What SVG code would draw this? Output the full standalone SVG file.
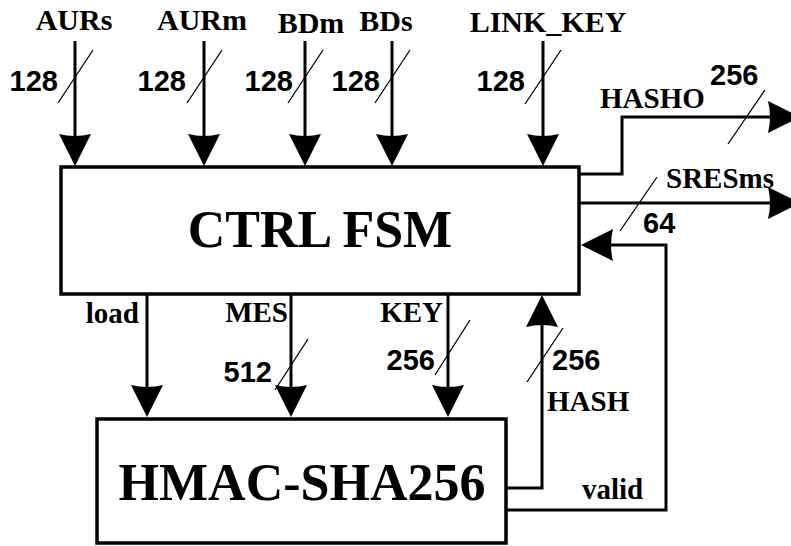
<svg xmlns="http://www.w3.org/2000/svg" width="791" height="546" viewBox="0 0 791 546">
<style>
.box{fill:#fff;stroke:#000;stroke-width:3.5}
.w{fill:none;stroke:#000;stroke-width:3}
.a{marker-end:url(#arr)}
.tk{stroke:#000;stroke-width:1.3}
.t{font-family:"Liberation Serif","Times New Roman",serif;font-weight:bold;fill:#000}
.n{font-family:"Liberation Sans",Arial,sans-serif;font-weight:bold;fill:#000;font-size:29px}
.lb{font-size:29px}
.big{font-size:52px;text-anchor:middle}
</style>
<defs>
<marker id="arr" viewBox="-24 -17 36 34" refX="0" refY="0" markerWidth="36" markerHeight="34" markerUnits="userSpaceOnUse" orient="auto">
<path d="M10,0 L-22,-16 Q-18,0 -22,16 Z" fill="#000"/>
</marker>
</defs>
<g id="ctrl">
<rect class="box" x="61" y="167" width="518" height="127"/>
<text class="t big" x="320" y="247">CTRL FSM</text>
</g>
<g id="hmac">
<rect class="box" x="97" y="419" width="409" height="124"/>
<text class="t big" x="302" y="500">HMAC-SHA256</text>
</g>
<g id="connectors">
<path class="w a" d="M75,41V156"/>
<path class="w a" d="M204,41V156"/>
<path class="w a" d="M305,41V156"/>
<path class="w a" d="M392,41V156"/>
<path class="w a" d="M543,41V156"/>
<path class="w a" d="M147,294V407"/>
<path class="w a" d="M291,294V407"/>
<path class="w a" d="M448,294V407"/>
<path class="w a" d="M506,488H542V305"/>
<path class="w a" d="M506,510H666V245H591"/>
<path class="w a" d="M579,174H622V117H790"/>
<path class="w a" d="M579,203H790"/>
<line class="tk" x1="93" y1="50" x2="58" y2="103"/>
<line class="tk" x1="222" y1="50" x2="187" y2="103"/>
<line class="tk" x1="323" y1="50" x2="288" y2="103"/>
<line class="tk" x1="410" y1="50" x2="375" y2="103"/>
<line class="tk" x1="561" y1="50" x2="525" y2="104"/>
<line class="tk" x1="765" y1="90" x2="728" y2="144"/>
<line class="tk" x1="657" y1="177" x2="620" y2="231"/>
<line class="tk" x1="308" y1="339" x2="275" y2="390"/>
<line class="tk" x1="470" y1="320" x2="435" y2="375"/>
<line class="tk" x1="563" y1="328" x2="527" y2="382"/>
</g>
<g id="labels">
<text class="t" font-size="30" text-anchor="middle" x="74" y="30">AURs</text>
<text class="t" font-size="30" text-anchor="middle" x="202" y="30">AURm</text>
<text class="t" font-size="30" text-anchor="middle" x="311" y="33">BDm</text>
<text class="t" font-size="30" text-anchor="middle" x="386" y="31">BDs</text>
<text class="t" font-size="30" text-anchor="middle" x="548" y="32">LINK_KEY</text>
<text class="n" text-anchor="end" x="58" y="91">128</text>
<text class="n" text-anchor="end" x="186" y="91">128</text>
<text class="n" text-anchor="end" x="293" y="91">128</text>
<text class="n" text-anchor="end" x="380" y="91">128</text>
<text class="n" text-anchor="end" x="525" y="91">128</text>
<text class="t lb" x="600" y="108">HASHO</text>
<text class="n" x="710" y="85">256</text>
<text class="t lb" x="666" y="188">SRESms</text>
<text class="n" x="643" y="233">64</text>
<text class="t lb" text-anchor="end" x="139" y="323">load</text>
<text class="t lb" text-anchor="end" x="288" y="322">MES</text>
<text class="t lb" text-anchor="end" x="443" y="322">KEY</text>
<text class="n" text-anchor="end" x="272" y="382">512</text>
<text class="n" text-anchor="end" x="435" y="370">256</text>
<text class="n" x="552" y="370">256</text>
<text class="t lb" x="547" y="411">HASH</text>
<text class="t lb" x="582" y="499">valid</text>
</g>
</svg>
